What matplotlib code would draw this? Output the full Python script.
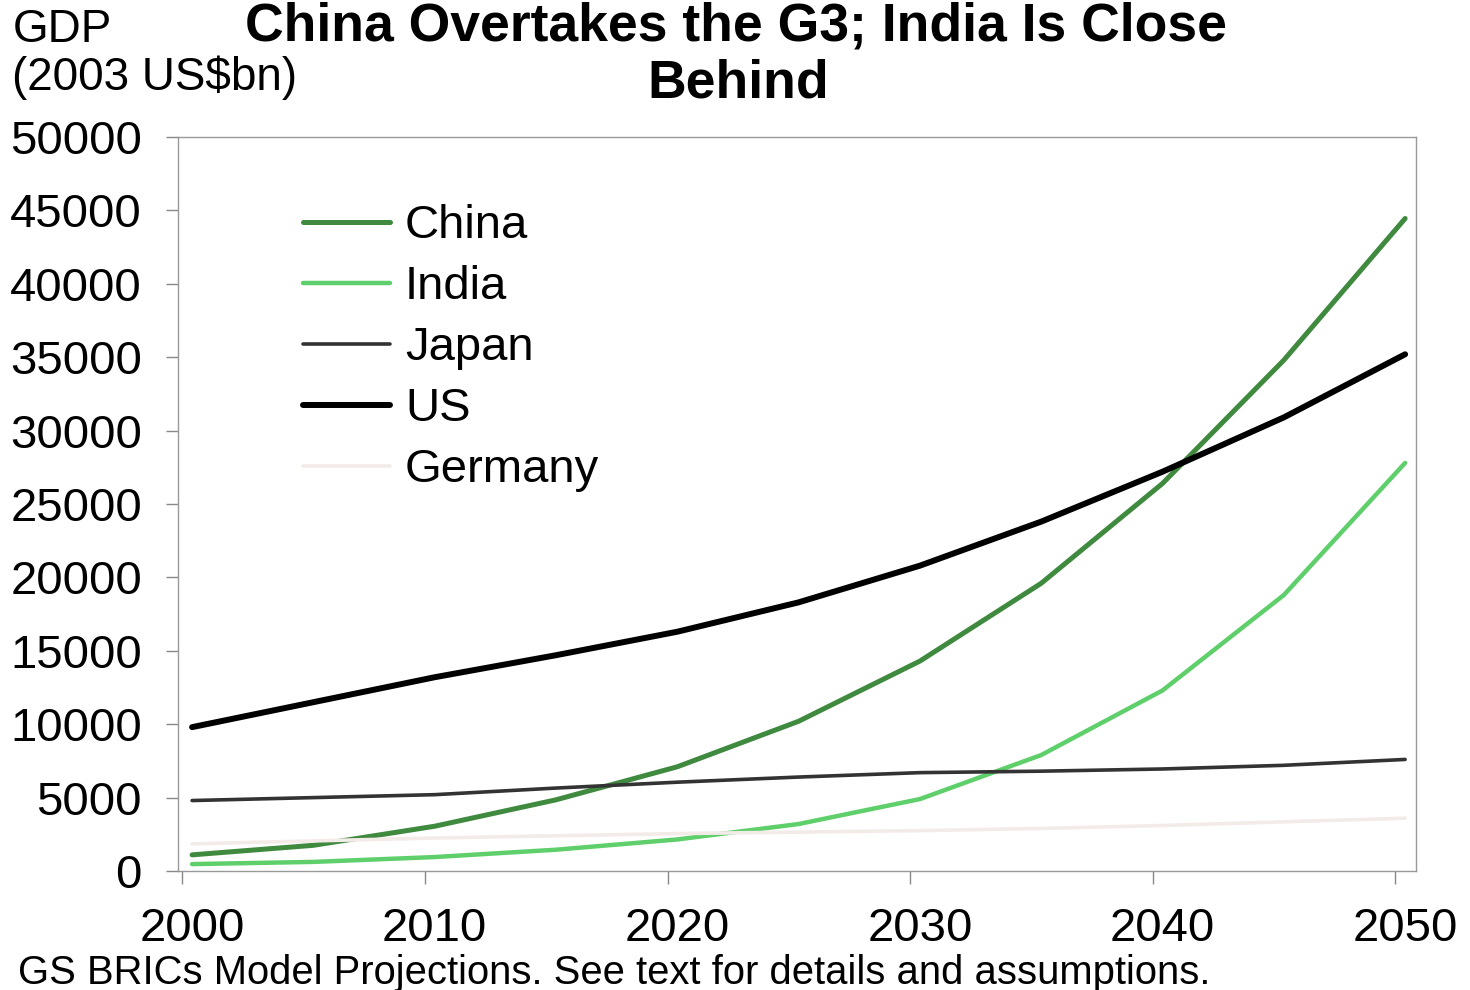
import numpy as np
import matplotlib.pyplot as plt

plt.rcParams['font.family'] = ['Liberation Sans', 'DejaVu Sans']

# data (GDP, 2003 US$bn)
years = [2000, 2005, 2010, 2015, 2020, 2025, 2030, 2035, 2040, 2045, 2050]
china = [1100, 1750, 3050, 4850, 7100, 10200, 14300, 19600, 26400, 34800, 44450]
india = [470, 620, 950, 1450, 2150, 3200, 4900, 7900, 12300, 18800, 27800]
japan = [4800, 5000, 5200, 5650, 6050, 6400, 6700, 6800, 6950, 7200, 7600]
us = [9800, 11500, 13200, 14700, 16300, 18300, 20800, 23800, 27200, 30900, 35200]
germany = [1850, 2050, 2250, 2400, 2550, 2650, 2750, 2900, 3100, 3350, 3600]

year_labels = [2000, 2010, 2020, 2030, 2040, 2050]
y_ticks = [0, 5000, 10000, 15000, 20000, 25000, 30000, 35000, 40000, 45000, 50000]

# a. figure and axes
fig = plt.figure(figsize=(14.7, 9.9), dpi=100)
ax = fig.add_axes([0.1211, 0.1202, 0.8422, 0.7414])

# b. series
ax.plot(years, china, color='#3f8a3f', lw=3.6, label='China', solid_capstyle='round')
ax.plot(years, india, color='#5ecf6a', lw=3.2, label='India', solid_capstyle='round')
ax.plot(years, japan, color='#333333', lw=2.6, label='Japan', solid_capstyle='round')
ax.plot(years, us, color='black', lw=4.3, label='US', solid_capstyle='round')
ax.plot(years, germany, color='#f3ebe8', lw=2.6, label='Germany', solid_capstyle='round')

# c. axes, ticks sit between categories like excel
ax.set_xlim(1999.42, 2050.45)
ax.set_ylim(0, 50000)
ax.set_xticks([y - 0.4 for y in year_labels])
ax.set_xticklabels([''] * len(year_labels))
ax.set_xticks(year_labels, minor=True)
ax.set_xticklabels([str(y) for y in year_labels], minor=True)
ax.tick_params(axis='x', which='major', direction='out', length=9, width=1, color='#888888')
ax.tick_params(axis='x', which='minor', length=0, pad=26, labelsize=34)
ax.set_yticks(y_ticks)
ax.set_yticklabels([str(v) for v in y_ticks])
ax.tick_params(axis='y', direction='out', length=9, width=1, color='#888888', pad=17, labelsize=34)
for s in ax.spines.values():
    s.set_color('#999999')
    s.set_linewidth(1)

# d. legend
ax.legend(loc='upper left', bbox_to_anchor=(0.101, 0.9087), frameon=False, fontsize=34,
          handlelength=1.84, handletextpad=0.32, labelspacing=0.36, borderpad=0, borderaxespad=0)

# e. texts (title on two lines as in the source)
fig.text(0.501, 0.9586, 'China Overtakes the G3; India Is Close', ha='center', va='baseline',
         fontsize=38.5, fontweight='bold')
fig.text(0.502, 0.902, 'Behind', ha='center', va='baseline', fontsize=38.5, fontweight='bold')
fig.text(0.009, 0.958, 'GDP', ha='left', va='baseline', fontsize=33)
fig.text(0.008, 0.909, '(2003 US$bn)', ha='left', va='baseline', fontsize=33)
fig.text(0.012, 0.006, 'GS BRICs Model Projections. See text for details and assumptions.',
         ha='left', va='baseline', fontsize=28.8)

fig.savefig('out.png', dpi=100)
